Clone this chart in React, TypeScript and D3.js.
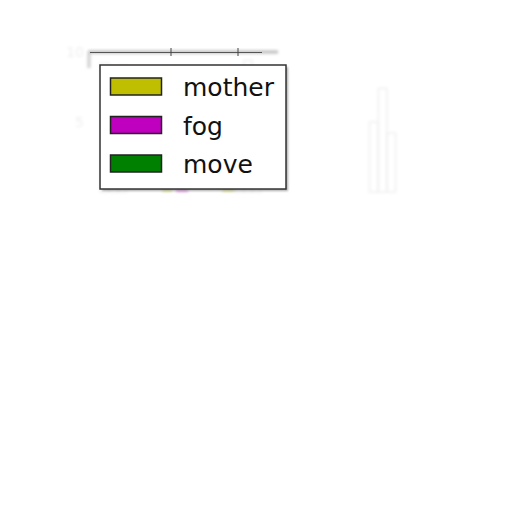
import React from "react";
import * as d3 from "d3";

// series shown in the legend
const seriesNames = ["mother", "fog", "move"];
const seriesColors = ["#bfbf00", "#bf00bf", "#008000"];

// faint bars behind the legend (hardly readable in the picture)
const groups = ["g1", "g2", "g3"];
const motherValues = [9.2, 8.6, 5.0];
const fogValues = [8.8, 9.4, 7.4];
const moveValues = [9.0, 8.1, 4.2];
const yTicks = [5, 10];

const W = 512;
const H = 512;

const App: React.FC = () => {
  const x = d3.scaleBand().domain(groups).range([100, 396]).paddingInner(0.8);
  const inner = d3
    .scaleBand()
    .domain(seriesNames)
    .range([0, x.bandwidth()])
    .padding(0.05);
  const y = d3.scaleLinear().domain([0, 10]).range([192, 52]);

  const values = [motherValues, fogValues, moveValues];
  const tickXs = [171, 238];

  // legend layout
  const lx = 100;
  const ly = 65;
  const lw = 186;
  const lh = 124;
  const row = d3.scaleLinear().domain([0, 2]).range([ly + 22, ly + 99]);

  return (
    <svg
      width={W}
      height={H}
      style={{ position: "absolute", left: 0, top: 0, background: "#fff" }}
      fontFamily="DejaVu Sans, sans-serif"
    >
      <defs>
        <filter id="blur" x="-20%" y="-20%" width="140%" height="140%">
          <feGaussianBlur stdDeviation="1.6" />
        </filter>
        <filter id="shadow" x="-10%" y="-10%" width="130%" height="130%">
          <feGaussianBlur stdDeviation="1.2" />
        </filter>
      </defs>

      {/* faded chart behind the legend */}
      <g filter="url(#blur)" opacity={0.09}>
        {groups.map((g, gi) =>
          seriesNames.map((s, si) => (
            <rect
              key={g + s}
              x={(x(g) ?? 0) + (inner(s) ?? 0)}
              y={y(values[si][gi])}
              width={inner.bandwidth()}
              height={y(0) - y(values[si][gi])}
              fill="none"
              stroke="#555"
              strokeWidth={1.5}
            />
          ))
        )}
        {yTicks.map((t) => (
          <text
            key={t}
            x={84}
            y={y(t) + 5}
            textAnchor="end"
            fontSize={14}
            fill="#444"
          >
            {t}
          </text>
        ))}
      </g>

      {/* top spine with ticks */}
      <g filter="url(#blur)" opacity={0.5}>
        <line x1={88} x2={278} y1={52} y2={52} stroke="#777" strokeWidth={3} />
        <line x1={89} x2={89} y1={52} y2={68} stroke="#999" strokeWidth={3} />
      </g>
      <line x1={90} x2={262} y1={52.5} y2={52.5} stroke="#555" strokeWidth={1} />
      {tickXs.map((t) => (
        <line key={t} x1={t} x2={t} y1={48} y2={56} stroke="#444" strokeWidth={1} />
      ))}

      {/* faint bar bottoms peeking under the legend */}
      <g opacity={0.35} filter="url(#blur)">
        <rect x={162} y={186} width={10} height={6} fill={seriesColors[0]} />
        <rect x={176} y={186} width={12} height={6} fill={seriesColors[1]} />
        <rect x={222} y={186} width={12} height={6} fill={seriesColors[0]} />
      </g>

      {/* legend */}
      <rect
        x={lx + 2}
        y={ly + 2}
        width={lw}
        height={lh}
        fill="#888"
        filter="url(#shadow)"
        opacity={0.7}
      />
      <rect
        x={lx}
        y={ly}
        width={lw}
        height={lh}
        fill="#fff"
        stroke="#333"
        strokeWidth={1.5}
      />
      {seriesNames.map((s, i) => (
        <g key={s}>
          <rect
            x={lx + 10.5}
            y={row(i) - 9}
            width={51}
            height={17}
            fill={seriesColors[i]}
            stroke="#222"
            strokeWidth={1.5}
          />
          <text x={lx + 83} y={row(i) + 9} fontSize={25} fill="#111">
            {s}
          </text>
        </g>
      ))}
    </svg>
  );
};

export default App;
